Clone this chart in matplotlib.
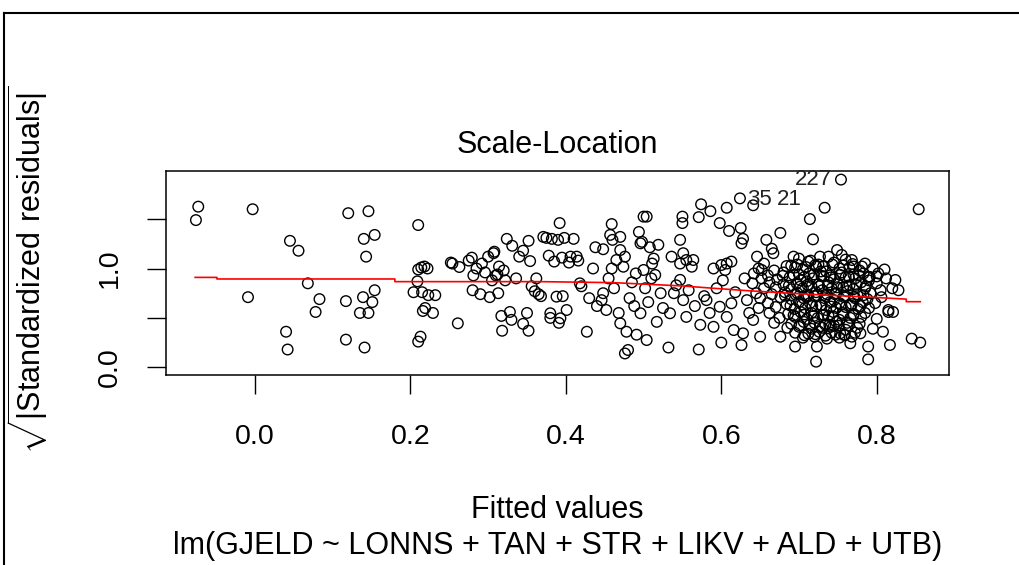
import numpy as np
import matplotlib
matplotlib.use("Agg")
import matplotlib.pyplot as plt
from matplotlib.lines import Line2D

plt.rcParams['font.family'] = ['Liberation Sans', 'DejaVu Sans']
plt.rcParams['mathtext.fontset'] = 'custom'
plt.rcParams['mathtext.rm'] = 'Liberation Sans'

# fitted values / sqrt(|standardized residuals|), low fitted values
fitted_low = [-0.076, -0.073, -0.003, -0.009, 0.040, 0.042, 0.045, 0.056, 0.068, 0.078,
              0.083, 0.117, 0.117, 0.120, 0.135, 0.139, 0.140, 0.141, 0.143, 0.146,
              0.146, 0.151, 0.154, 0.154, 0.204, 0.209, 0.210, 0.210, 0.213, 0.210,
              0.214, 0.218, 0.222, 0.215, 0.216, 0.219, 0.223, 0.229, 0.232]
resid_low = [1.49, 1.626, 1.60, 0.71, 0.36, 0.18, 1.28, 1.18, 0.85, 0.56,
             0.69, 0.67, 0.28, 1.56, 0.55, 0.71, 1.30, 0.20, 1.12, 1.58,
             0.55, 0.66, 0.78, 1.34, 0.76, 0.87, 1.44, 0.26, 0.31, 0.99,
             1.01, 1.02, 1.00, 0.76, 0.57, 0.60, 0.73, 0.55, 0.73]

fitted_mid = [0.252, 0.254, 0.261, 0.263, 0.275, 0.279, 0.281, 0.280, 0.285, 0.290,
              0.292, 0.296, 0.300, 0.302, 0.305, 0.307, 0.308, 0.310, 0.312, 0.313,
              0.314, 0.317, 0.318, 0.320, 0.322, 0.324, 0.328, 0.330, 0.331, 0.336,
              0.340, 0.345, 0.345, 0.350, 0.352, 0.352, 0.354, 0.356, 0.360, 0.362,
              0.365, 0.368, 0.371, 0.375, 0.378, 0.380, 0.380, 0.382, 0.385, 0.388,
              0.390, 0.391, 0.392, 0.393, 0.395, 0.396, 0.398, 0.401, 0.404, 0.406,
              0.410, 0.414, 0.416, 0.418, 0.420, 0.427, 0.430]
resid_mid = [1.06, 1.05, 0.445, 1.015, 1.08, 1.11, 0.93, 0.78, 1.00, 0.74,
             1.05, 0.96, 1.12, 0.71, 0.88, 1.155, 1.17, 0.93, 0.94, 0.75,
             1.02, 0.52, 0.37, 0.98, 0.88, 1.30, 0.56, 0.48, 1.23, 0.90,
             1.12, 0.44, 1.18, 0.55, 0.37, 1.28, 1.075, 0.82, 0.77, 0.90,
             0.74, 0.72, 1.32, 1.31, 1.13, 0.50, 0.547, 1.30, 1.07, 0.715,
             1.29, 0.45, 1.46, 0.496, 1.11, 0.72, 1.31, 0.58, 1.06, 1.12,
             1.30, 1.12, 1.08, 0.85, 0.82, 0.36, 0.70]

fitted_upper = [0.435, 0.438, 0.440, 0.446, 0.448, 0.448, 0.452, 0.455, 0.457, 0.459,
                0.459, 0.460, 0.462, 0.465, 0.468, 0.470, 0.470, 0.470, 0.474, 0.476,
                0.476, 0.478, 0.480, 0.482, 0.485, 0.488, 0.490, 0.491, 0.494, 0.496,
                0.496, 0.498, 0.500, 0.500, 0.502, 0.504, 0.504, 0.506, 0.508, 0.510,
                0.511, 0.513, 0.515, 0.517, 0.519, 0.522, 0.525, 0.532, 0.534, 0.536,
                0.539, 0.542, 0.547, 0.547, 0.547, 0.550, 0.550, 0.551, 0.551, 0.555,
                0.555, 0.558, 0.562, 0.564, 0.566, 0.571, 0.571, 0.573, 0.574, 0.578,
                0.581, 0.585, 0.586, 0.590, 0.590, 0.594, 0.598, 0.598, 0.600, 0.600,
                0.602, 0.605, 0.607, 0.607, 0.607, 0.610, 0.613, 0.613, 0.616, 0.618,
                0.624, 0.625, 0.626, 0.626, 0.628, 0.628, 0.630, 0.633, 0.636, 0.641,
                0.641]
resid_upper = [1.00, 1.215, 0.62, 0.68, 1.195, 0.75, 0.58, 0.90, 1.34, 1.45,
               1.00, 1.29, 0.80, 1.086, 0.55, 1.32, 1.187, 0.445, 1.018, 1.12,
               0.14, 0.36, 0.175, 0.70, 0.86, 0.62, 0.95, 0.33, 1.37, 1.255,
               0.547, 1.27, 1.525, 0.985, 0.80, 1.525, 0.276, 0.66, 1.215, 0.90,
               1.05, 1.10, 0.935, 0.46, 1.24, 0.75, 0.60, 0.20, 0.547, 1.12,
               0.75, 0.83, 1.29, 1.05, 0.885, 1.525, 1.46, 1.155, 0.68, 1.086,
               0.51, 0.78, 1.018, 1.086, 0.62, 1.52, 0.18, 0.43, 1.65, 0.72,
               0.68, 0.55, 1.58, 1.00, 0.41, 0.80, 1.46, 0.613, 1.035, 0.25,
               0.88, 0.985, 1.615, 1.05, 0.51, 1.38, 1.07, 0.648, 0.377, 0.76,
               1.71, 1.41, 1.255, 0.225, 1.30, 0.344, 0.90, 0.68, 0.55, 1.64,
               0.479]

fitted_high = [0.646, 0.652, 0.658, 0.665, 0.667, 0.676, 0.650, 0.676, 0.693, 0.695,
               0.714, 0.718, 0.722, 0.723, 0.727, 0.733, 0.741, 0.749, 0.753, 0.754,
               0.755, 0.766, 0.768, 0.779, 0.789, 0.789, 0.789, 0.802, 0.808, 0.817,
               0.821, 0.815, 0.824, 0.828, 0.845, 0.854, 0.856,
               # dense band between 0.64 and 0.82
               0.700, 0.715, 0.738, 0.760,
               0.655, 0.690, 0.712, 0.725, 0.745, 0.770, 0.785,
               0.648, 0.668, 0.695, 0.705, 0.722, 0.735, 0.752, 0.765, 0.778, 0.795, 0.810,
               0.642, 0.660, 0.680, 0.700, 0.713, 0.728, 0.740, 0.755, 0.770, 0.783, 0.800,
               0.652, 0.672, 0.688, 0.702, 0.718, 0.732, 0.745, 0.760, 0.772, 0.790, 0.812,
               0.640, 0.662, 0.680, 0.697, 0.710, 0.725, 0.738, 0.750, 0.765, 0.780, 0.800,
               0.655, 0.670, 0.690, 0.705, 0.716, 0.730, 0.742, 0.757, 0.770, 0.785, 0.805, 0.820,
               0.645, 0.665, 0.682, 0.698, 0.712, 0.722, 0.736, 0.748, 0.762, 0.775, 0.792,
               0.650, 0.676, 0.690, 0.706, 0.720, 0.733, 0.745, 0.758, 0.772, 0.788, 0.806,
               0.660, 0.684, 0.700, 0.714, 0.728, 0.740, 0.752, 0.768, 0.782, 0.798,
               0.648, 0.670, 0.694, 0.708, 0.722, 0.735, 0.748, 0.760, 0.776, 0.790, 0.815,
               0.662, 0.686, 0.702, 0.716, 0.730, 0.744, 0.756, 0.770, 0.785,
               0.675, 0.695, 0.710, 0.724, 0.738, 0.752, 0.766, 0.780, 0.800,
               0.668, 0.690, 0.706, 0.720, 0.734, 0.748, 0.762, 0.778,
               0.685, 0.700, 0.716, 0.730, 0.745, 0.760, 0.775, 0.795,
               0.695, 0.712, 0.726, 0.742, 0.758, 0.772,
               0.705, 0.720, 0.736, 0.752, 0.768]
resid_high = [1.12, 0.985, 1.29, 1.20, 1.155, 1.36, 0.31, 0.31, 1.12, 0.21,
              1.50, 1.295, 0.057, 0.21, 1.12, 1.615, 0.41, 1.187, 0.344, 1.90,
              1.137, 0.243, 1.086, 0.344, 0.917, 0.21, 0.08, 0.95, 0.36, 0.226,
              0.56, 0.56, 0.884, 0.78, 0.29, 1.60, 0.25,
              1.10, 1.08, 1.12, 1.09,
              1.05, 1.03, 1.07, 1.04, 1.06, 1.02, 1.05,
              1.00, 0.98, 1.01, 0.99, 1.02, 0.97, 1.00, 1.01, 0.98, 1.00, 0.99,
              0.95, 0.93, 0.96, 0.94, 0.95, 0.97, 0.93, 0.96, 0.94, 0.95, 0.92,
              0.90, 0.89, 0.91, 0.88, 0.90, 0.92, 0.89, 0.91, 0.90, 0.88, 0.90,
              0.85, 0.86, 0.84, 0.85, 0.87, 0.84, 0.86, 0.85, 0.83, 0.86, 0.85,
              0.80, 0.81, 0.79, 0.80, 0.82, 0.78, 0.80, 0.81, 0.79, 0.80, 0.78, 0.80,
              0.75, 0.74, 0.76, 0.75, 0.73, 0.76, 0.74, 0.75, 0.77, 0.74, 0.75,
              0.70, 0.71, 0.69, 0.70, 0.72, 0.70, 0.68, 0.71, 0.70, 0.69, 0.71,
              0.65, 0.64, 0.66, 0.65, 0.63, 0.66, 0.65, 0.64, 0.66, 0.65,
              0.60, 0.61, 0.59, 0.60, 0.62, 0.58, 0.60, 0.61, 0.59, 0.60, 0.58,
              0.55, 0.54, 0.56, 0.55, 0.53, 0.56, 0.55, 0.54, 0.55,
              0.50, 0.51, 0.49, 0.50, 0.52, 0.48, 0.50, 0.51, 0.49,
              0.45, 0.44, 0.46, 0.45, 0.43, 0.46, 0.45, 0.44,
              0.40, 0.41, 0.39, 0.40, 0.42, 0.38, 0.40, 0.39,
              0.35, 0.34, 0.36, 0.35, 0.33, 0.35,
              0.30, 0.31, 0.29, 0.30, 0.31]

# core of the cluster around 0.68-0.79
fitted_core = [0.684, 0.698, 0.709, 0.721, 0.731, 0.743, 0.757, 0.769, 0.781,
               0.679, 0.693, 0.707, 0.719, 0.729, 0.741, 0.753, 0.764, 0.777, 0.791,
               0.687, 0.701, 0.711, 0.726, 0.737, 0.749, 0.761, 0.774, 0.786,
               0.682, 0.696, 0.709, 0.723, 0.734, 0.746, 0.758, 0.771, 0.783,
               0.689, 0.704, 0.717, 0.729, 0.741, 0.754, 0.767, 0.779,
               0.693, 0.707, 0.719, 0.732, 0.744, 0.757, 0.770,
               0.701, 0.714, 0.727, 0.739, 0.751, 0.764,
               0.707, 0.721, 0.734, 0.747, 0.759]
resid_core = [1.025, 1.04, 1.015, 1.035, 1.02, 1.04, 1.03, 1.045, 1.02,
              0.925, 0.935, 0.915, 0.94, 0.925, 0.91, 0.935, 0.92, 0.93, 0.915,
              0.825, 0.815, 0.835, 0.82, 0.83, 0.81, 0.825, 0.835, 0.82,
              0.725, 0.735, 0.715, 0.73, 0.72, 0.74, 0.725, 0.715, 0.73,
              0.625, 0.635, 0.62, 0.63, 0.615, 0.635, 0.625, 0.62,
              0.525, 0.535, 0.52, 0.53, 0.515, 0.53, 0.525,
              0.425, 0.43, 0.415, 0.43, 0.42, 0.425,
              0.325, 0.335, 0.32, 0.33, 0.325]

# smoothed trend (red)
smooth_x = [-0.077, -0.049, -0.049, 0.180, 0.180, 0.367, 0.461, 0.551, 0.590,
            0.633, 0.689, 0.731, 0.796, 0.838, 0.838, 0.856]
smooth_y = [0.910, 0.910, 0.894, 0.894, 0.867, 0.867, 0.857, 0.823, 0.800,
            0.776, 0.749, 0.732, 0.708, 0.690, 0.664, 0.664]

# labelled observations
id_labels = ["227", "35", "21"]
id_x = [0.754, 0.677, 0.716]
id_y = [1.90, 1.70, 1.70]

fitted = np.array(fitted_low + fitted_mid + fitted_upper + fitted_high + fitted_core)
sqrt_resid = np.array(resid_low + resid_mid + resid_upper + resid_high + resid_core)

fig = plt.figure(figsize=(10.19, 5.65), dpi=100)
W, H = 1019, 565
ax = fig.add_axes([166 / W, 1 - 375 / H, (949 - 166) / W, (375 - 171) / H])

ax.scatter(fitted, sqrt_resid, s=58, facecolors='none', edgecolors='black', linewidths=1.0)
ax.plot(smooth_x, smooth_y, color='red', lw=1.2)
for lab, lx, ly in zip(id_labels, id_x, id_y):
    ax.text(lx - 0.012, ly, lab, ha='right', va='center', fontsize=16, color='#222222')

ax.set_xlim(-0.1145, 0.893)
ax.set_ylim(-0.078, 1.987)

ax.set_xticks([0.0, 0.2, 0.4, 0.6, 0.8])
ax.set_xticklabels(["0.0", "0.2", "0.4", "0.6", "0.8"])
ax.set_yticks([0.0, 0.5, 1.0, 1.5])
ax.set_yticklabels(["0.0", "", "1.0", ""], rotation=90, va='center')
ax.tick_params(axis='both', direction='out', length=14, width=1.0, labelsize=20.5)
ax.tick_params(axis='x', pad=21)
ax.tick_params(axis='y', pad=17)
for sp in ax.spines.values():
    sp.set_linewidth(1.1)

fig.text((166 + 949) / 2 / W, 1 - 145 / H, "Scale-Location", ha='center', va='center', fontsize=22)
fig.text((166 + 949) / 2 / W, 1 - 510 / H, "Fitted values", ha='center', va='center', fontsize=22)
fig.text((166 + 949) / 2 / W, 1 - 546 / H, "lm(GJELD ~ LONNS + TAN + STR + LIKV + ALD + UTB)",
         ha='center', va='center', fontsize=22)
fig.text(28 / W, 1 - 270 / H, r"$\sqrt{|\mathrm{Standardized\ residuals}|}$",
         rotation=90, ha='center', va='center', fontsize=22)

# outer frame lines
fig.add_artist(Line2D([4 / W, 1], [1 - 13 / H, 1 - 13 / H], transform=fig.transFigure, color='black', lw=1.5))
fig.add_artist(Line2D([4 / W, 4 / W], [0, 1 - 13 / H], transform=fig.transFigure, color='black', lw=1.5))

fig.savefig("out.png", dpi=100)
